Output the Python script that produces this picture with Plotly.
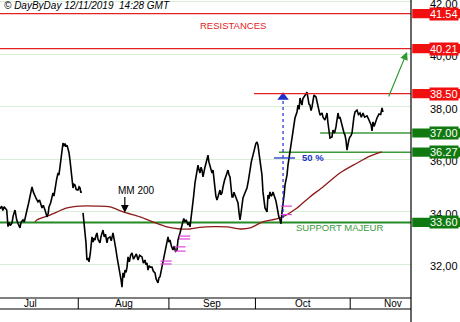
import plotly.graph_objects as go

# ---------------- data ----------------
# x values are trading sessions counted from 5 Jul 2019 (session 0)
jul_session = [0.0, 0.41, 0.7, 1.0, 1.63, 1.94, 2.2, 2.5, 2.91, 3.2,
               3.64, 3.9, 4.05, 4.4, 4.85, 5.1, 5.58, 5.9, 6.2, 6.55,
               6.9, 7.28, 7.5, 7.77, 8.1, 8.5, 8.8, 9.22, 9.6, 10.2,
               10.5, 10.92, 11.41, 11.7, 11.89, 12.3, 12.86, 13.1, 13.35, 13.7,
               14.08, 14.3, 14.56, 14.8, 15.05, 15.29, 15.5, 15.78, 16.0, 16.26,
               16.5, 16.75, 17.0, 17.23, 17.5, 17.72, 17.95, 18.2, 18.5, 18.93,
               19.2, 19.42, 19.6, 19.9]
jul_price = [34.12, 34.22, 34.05, 34.20, 34.07, 33.44, 33.60, 33.48, 33.58, 33.85,
             34.07, 33.80, 33.70, 33.55, 33.39, 33.60, 33.70, 33.62, 33.90, 34.07,
             34.30, 34.57, 34.70, 34.95, 34.75, 34.57, 34.50, 34.38, 34.45, 34.15,
             34.25, 34.07, 33.81, 33.95, 34.19, 34.35, 34.72, 34.60, 34.95, 35.20,
             35.48, 35.40, 35.71, 36.00, 36.35, 36.62, 36.50, 36.60, 36.48, 36.54,
             36.40, 36.25, 35.95, 35.59, 35.20, 34.91, 35.05, 35.02, 34.85, 34.83,
             34.95, 34.91, 34.75, 34.76]

aug_session = [20.15, 20.4, 20.63, 20.87, 21.1, 21.4, 21.6, 21.9, 22.33, 22.6,
               22.8, 23.06, 23.3, 23.54, 23.8, 24.27, 24.5, 25.0, 25.3, 25.6,
               25.97, 26.2, 26.7, 27.0, 27.43, 27.7, 27.91, 28.1, 28.4, 28.88,
               29.2, 29.4, 29.61, 29.85, 30.1, 30.34, 30.6, 30.83, 31.07, 31.4,
               31.7, 32.04, 32.4, 32.77, 33.1, 33.5, 33.9, 34.47, 34.8, 35.19,
               35.4, 35.68, 35.92, 36.2, 36.5, 36.89, 37.2, 37.62, 37.9, 38.35,
               38.6, 38.83, 39.1, 39.32, 39.6, 40.05, 40.3, 40.53, 40.78, 41.0,
               41.26, 41.6, 41.99, 42.3, 42.6, 42.96, 43.2, 43.69, 44.0, 44.42]
aug_price = [33.96, 33.55, 33.31, 32.82, 32.17, 32.25, 32.10, 32.40, 33.05, 32.85,
             33.00, 32.93, 33.10, 33.20, 32.95, 32.82, 33.05, 33.31, 33.05, 33.15,
             32.82, 33.00, 33.05, 32.90, 33.20, 33.00, 32.82, 32.60, 32.29, 31.90,
             31.60, 31.40, 31.14, 31.68, 31.50, 31.79, 31.70, 31.90, 32.29, 32.10,
             32.35, 32.44, 32.20, 32.29, 32.40, 32.17, 32.35, 32.29, 32.05, 32.17,
             32.00, 32.06, 31.79, 31.95, 31.90, 31.90, 31.75, 31.68, 31.45, 31.30,
             31.50, 31.53, 31.75, 31.90, 32.20, 32.44, 32.70, 32.82, 33.05, 32.85,
             32.93, 32.70, 32.55, 32.70, 32.50, 32.55, 32.93, 33.20, 33.40, 33.58]

sep_session = [44.6, 44.9, 45.2, 45.63, 45.9, 46.12, 46.4, 46.6, 46.84, 47.0,
               47.33, 47.6, 47.82, 48.06, 48.3, 48.54, 48.8, 49.03, 49.27, 49.5,
               49.76, 50.0, 50.24, 50.49, 50.7, 50.97, 51.2, 51.46, 51.7, 52.0,
               52.18, 52.4, 52.67, 52.91, 53.1, 53.4, 53.6, 53.88, 54.13, 54.5,
               55.1, 55.34, 55.6, 55.83, 56.1, 56.31, 56.55, 56.8, 57.04, 57.3,
               57.52, 57.77, 58.0, 58.25, 58.5, 58.74, 58.98, 59.4, 59.95, 60.3,
               60.68, 61.0, 61.41, 61.89, 62.1, 62.38, 62.62, 62.9, 63.11, 63.59,
               63.83, 64.1, 64.32, 64.81, 65.05, 65.3, 65.53, 65.8, 66.02, 66.26,
               66.5, 66.75, 67.0, 67.23, 67.48, 67.7, 67.96, 68.2, 68.45, 68.69]
sep_price = [33.75, 33.62, 33.70, 33.50, 33.60, 33.43, 33.75, 33.96, 34.34, 34.60,
             35.10, 35.40, 35.59, 35.78, 35.60, 35.48, 35.70, 35.59, 35.33, 35.55,
             35.71, 35.85, 35.97, 36.16, 35.90, 35.71, 35.55, 35.48, 35.59, 35.20,
             34.83, 34.60, 34.45, 34.57, 34.70, 34.83, 34.65, 34.72, 34.95, 35.20,
             35.48, 35.59, 35.40, 35.33, 34.90, 34.57, 34.57, 34.75, 34.64, 34.50,
             34.45, 34.34, 34.00, 33.70, 33.95, 34.19, 34.53, 34.70, 34.91, 35.20,
             35.67, 35.90, 36.16, 36.54, 36.60, 36.66, 36.54, 36.20, 35.90, 35.40,
             34.76, 34.40, 34.15, 34.00, 34.64, 34.50, 34.76, 34.60, 34.64, 34.76,
             34.60, 34.53, 34.40, 34.15, 33.88, 33.80, 33.70, 33.55, 34.00, 34.26]

oct_session = [69.0, 69.17, 69.66, 69.9, 70.39, 70.87, 71.12, 71.4, 71.6, 72.09,
               72.33, 72.6, 72.82, 73.06, 73.3, 73.5, 74.03, 74.51, 74.76, 75.0,
               75.24, 75.5, 75.73, 76.2, 76.7, 77.0, 77.18, 77.4, 77.67, 78.16,
               78.4, 78.88, 79.1, 79.37, 79.61, 79.9, 80.1, 80.58, 80.83, 81.2,
               81.55, 82.04, 82.3, 82.52, 82.8, 83.01, 83.25, 83.5, 83.74, 84.0,
               84.22, 84.47, 84.7, 84.95, 85.2, 85.44, 85.68, 85.9, 86.17, 86.65,
               87.0, 87.38, 87.7, 88.1, 88.5, 89.08, 89.4, 89.81, 90.1, 90.29,
               90.53, 90.8, 91.02, 91.3, 91.5, 91.99, 92.4, 92.72, 92.96]
oct_price = [34.70, 35.02, 35.40, 35.78, 36.28, 36.66, 36.92, 37.30, 37.57, 37.80,
             38.06, 37.90, 38.33, 38.18, 38.06, 38.30, 38.44, 38.55, 38.33, 38.10,
             38.06, 37.85, 37.99, 38.44, 38.37, 38.15, 37.99, 37.80, 37.68, 37.76,
             37.60, 37.49, 37.65, 37.76, 37.38, 37.10, 36.81, 36.85, 37.11, 37.00,
             37.23, 37.76, 37.55, 37.61, 37.40, 37.30, 37.11, 37.00, 36.92, 36.70,
             36.35, 36.62, 36.75, 36.85, 36.90, 37.00, 37.38, 37.60, 37.80, 37.87,
             37.70, 37.76, 37.60, 37.76, 37.60, 37.65, 37.55, 37.42, 37.30, 37.08,
             37.42, 37.25, 37.38, 37.45, 37.57, 37.72, 37.70, 37.95, 37.80]

# 200-period moving average
mm_session = [8.5, 9.0, 12.1, 16.3, 19.4, 23.5, 26.7, 29.9, 34.0, 37.1, 40.5, 43.7, 46.1, 48.5,
              51.7, 55.1, 58.3, 60.7, 63.8, 68.0, 72.1, 75.2, 78.4, 82.5, 86.7, 89.8, 92.7]
mm_price = [33.62, 33.70, 33.88, 34.15, 34.22, 34.22, 34.19, 34.00, 33.81, 33.62, 33.43, 33.35, 33.35, 33.41,
            33.44, 33.43, 33.35, 33.39, 33.62, 33.77, 34.15, 34.57, 34.95, 35.48, 35.86, 36.12, 36.28]

# small magenta "=" signals
signal_session = [40.3, 40.3, 43.7, 43.7, 44.8, 44.8, 69.5, 69.5]
signal_price = [32.13, 32.02, 32.67, 32.51, 33.08, 32.97, 34.22, 33.90]

# horizontal levels
resistance_levels = [41.54, 40.21, 38.50]
resistance_start = [0, 0, 61.65]
support_levels = [37.00, 36.27, 33.60]
support_start = [77.7, 67.7, 0]
retracement_50 = 36.05

# axes
y_ticks = [32, 34, 36, 38, 40, 42]
y_tick_labels = ["32,00", "34,00", "36,00", "38,00", "40,00", "42,00"]
month_labels = ["Jul", "Aug", "Sep", "Oct", "Nov"]
month_start = [-4, 19, 41, 62, 85]
month_end = [19, 41, 62, 85, 106]

for a, b in [(jul_session, jul_price), (aug_session, aug_price),
             (sep_session, sep_price), (oct_session, oct_price)]:
    assert len(a) == len(b), (len(a), len(b))

# ---------------- figure ----------------
X_MAX = 99.76
Y_MIN, Y_MAX = 30.726, 42.057
RED = "#e32222"
BOX_RED = "#f01010"
GREEN = "#3c9a3c"
BOX_GREEN = "#107a10"
BLUE = "#2030c8"
FONT = "Liberation Sans, Arial, sans-serif"

x_all = jul_session + [None] + aug_session + sep_session + oct_session
y_all = jul_price + [None] + aug_price + sep_price + oct_price

fig = go.Figure()

fig.add_trace(go.Scatter(x=mm_session, y=mm_price, mode="lines",
                         line=dict(color="#8e1a1a", width=1.3, shape="spline", smoothing=0.8),
                         hoverinfo="skip"))
fig.add_trace(go.Scatter(x=x_all, y=y_all, mode="lines",
                         line=dict(color="black", width=1.6), connectgaps=False,
                         hoverinfo="skip"))
fig.add_trace(go.Scatter(x=signal_session, y=signal_price, mode="markers",
                         marker=dict(symbol="line-ew", size=8,
                                     line=dict(color="#e040e0", width=1.2)),
                         hoverinfo="skip"))

shapes = []
# level lines
for lvl, st in zip(resistance_levels, resistance_start):
    shapes.append(dict(type="line", xref="x", yref="y", x0=st, x1=X_MAX, y0=lvl, y1=lvl,
                       line=dict(color=RED, width=1.3), layer="above"))
for lvl, st in zip(support_levels, support_start):
    w = 2 if lvl == support_levels[-1] else 1.5
    col = "#268a26" if lvl == support_levels[-1] else GREEN
    shapes.append(dict(type="line", xref="x", yref="y", x0=st, x1=X_MAX, y0=lvl, y1=lvl,
                       line=dict(color=col, width=w), layer="below"))

# right axis line and bottom date band
shapes.append(dict(type="line", xref="paper", yref="paper", x0=1, x1=1, y0=-0.081, y1=1,
                   line=dict(color="black", width=1.2)))
band_low = -11 / 298
for yy in [0, band_low]:
    shapes.append(dict(type="line", xref="paper", yref="paper", x0=0, x1=1, y0=yy, y1=yy,
                       line=dict(color="black", width=1.2)))
for ms in month_start[1:]:
    shapes.append(dict(type="line", xref="x", yref="paper", x0=ms, x1=ms, y0=band_low, y1=0,
                       line=dict(color="black", width=1)))

# value boxes on the right
half = 4.6 / 26.3
for lvl in resistance_levels:
    shapes.append(dict(type="rect", xref="paper", yref="y", x0=1.003, x1=1.125,
                       y0=lvl - half, y1=lvl + half, fillcolor=BOX_RED, line=dict(width=0),
                       layer="above"))
for lvl in support_levels:
    shapes.append(dict(type="rect", xref="paper", yref="y", x0=1.003, x1=1.125,
                       y0=lvl - half, y1=lvl + half, fillcolor=BOX_GREEN, line=dict(width=0),
                       layer="above"))

# 50% retracement drawing
shapes.append(dict(type="line", xref="x", yref="y", x0=68.7, x1=68.7, y0=33.77, y1=38.25,
                   line=dict(color=BLUE, width=1.2, dash="dot"), layer="above"))
shapes.append(dict(type="line", xref="x", yref="y", x0=66.5, x1=71.6,
                   y0=retracement_50, y1=retracement_50,
                   line=dict(color=BLUE, width=1.3), layer="above"))

fig.add_trace(go.Scatter(x=[68.7], y=[38.36], mode="markers",
                         marker=dict(symbol="triangle-up", size=10, color=BLUE),
                         hoverinfo="skip"))

annotations = []
# y tick labels (drawn below the value boxes like the original)
for v, lab in zip(y_ticks, y_tick_labels):
    annotations.append(dict(xref="paper", yref="y", x=1.119, y=v, yshift=-2,
                            xanchor="right", yanchor="middle", text=lab, showarrow=False,
                            font=dict(color="black", size=11, family=FONT)))
for lvl in resistance_levels + support_levels:
    annotations.append(dict(xref="paper", yref="y", x=1.118, y=lvl, xanchor="right",
                            yanchor="middle", text=f"{lvl:.2f}", showarrow=False,
                            bgcolor=BOX_RED if lvl in resistance_levels else BOX_GREEN,
                            borderpad=0,
                            font=dict(color="white", size=11, family=FONT)))
for name, a, b in zip(month_labels, month_start, month_end):
    annotations.append(dict(xref="x", yref="paper", x=(a + b) / 2, y=-5.5 / 298,
                            xanchor="center", yanchor="middle", text=name, showarrow=False,
                            font=dict(color="black", size=10, family=FONT)))
annotations.append(dict(xref="paper", yref="paper", x=0.004, y=1 - 6 / 298, xanchor="left",
                        yanchor="middle", showarrow=False,
                        text="<i>© DayByDay 12/11/2019\u00a0\u00a014:28 GMT</i>",
                        font=dict(color="black", size=10, family=FONT)))
annotations.append(dict(xref="x", yref="y", x=56.55, y=41.07, text="RESISTANCES",
                        showarrow=False, font=dict(color=RED, size=9.5, family=FONT)))
annotations.append(dict(xref="x", yref="y", x=82.3, y=33.40, text="SUPPORT MAJEUR",
                        showarrow=False, font=dict(color=GREEN, size=9.5, family=FONT)))
annotations.append(dict(xref="x", yref="y", x=33.1, y=34.83, text="MM 200",
                        showarrow=False, font=dict(color="black", size=10, family=FONT)))
annotations.append(dict(xref="x", yref="y", x=30.3, y=33.97, ax=30.3, ay=34.62,
                        axref="x", ayref="y", text="", showarrow=True, arrowhead=2,
                        arrowsize=1.3, arrowwidth=1.2, arrowcolor="black", standoff=0))
annotations.append(dict(xref="x", yref="y", x=72.7, y=retracement_50, xanchor="left",
                        text="<b>50 %</b>", showarrow=False,
                        font=dict(color=BLUE, size=9.5, family=FONT)))
annotations.append(dict(xref="x", yref="y", x=98.8, y=40.08, ax=94.2, ay=38.33,
                        axref="x", ayref="y", text="", showarrow=True, arrowhead=2,
                        arrowsize=1.3, arrowwidth=1.2, arrowcolor="#2e9a2e", standoff=0))

fig.update_layout(
    width=460, height=322,
    margin=dict(l=0, r=49, t=0, b=24),
    paper_bgcolor="white", plot_bgcolor="white",
    showlegend=False,
    font=dict(family=FONT, size=11, color="black"),
    shapes=shapes, annotations=annotations,
    xaxis=dict(range=[0, X_MAX], showgrid=False, showticklabels=False, zeroline=False,
               showline=False, ticks="", fixedrange=True),
    yaxis=dict(range=[Y_MIN, Y_MAX], side="right", tickvals=y_ticks,
               showticklabels=False, showgrid=True, gridcolor="#d8eed8", gridwidth=1,
               zeroline=False, showline=False, ticks="", fixedrange=True),
)

fig.write_html("out.html")
